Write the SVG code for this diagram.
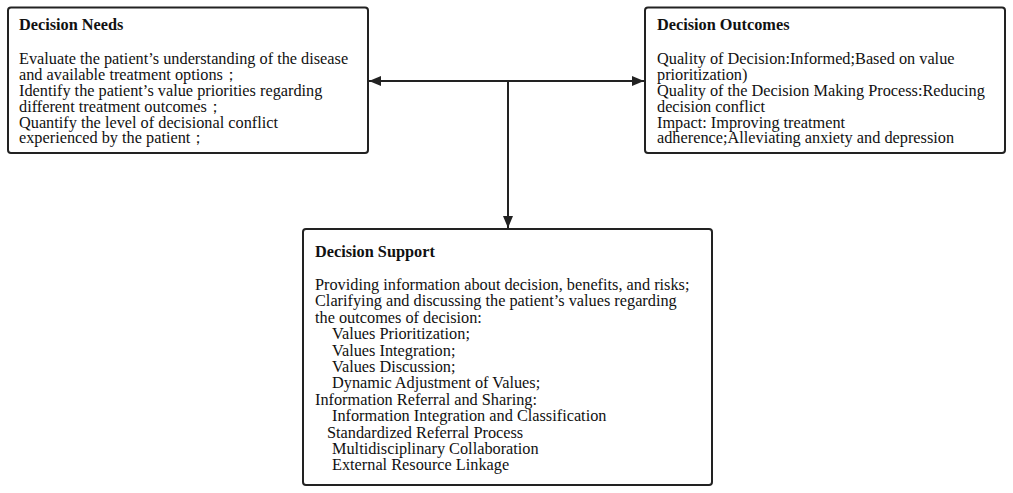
<svg xmlns="http://www.w3.org/2000/svg" width="1013" height="493" viewBox="0 0 1013 493">
<style>
.box{fill:#fff;stroke:#222;stroke-width:2}
.t{font-family:"Liberation Serif","Times New Roman",serif;font-size:16.3px;fill:#111}
.h{font-weight:bold}
.c{stroke:#222;stroke-width:2;fill:none}
</style>
<defs>
<marker id="ah" viewBox="0 0 12 10" refX="12" refY="5" markerWidth="12" markerHeight="10" markerUnits="userSpaceOnUse" orient="auto">
<path d="M0,0 L12,5 L0,10 Z" fill="#222"/>
</marker>
</defs>
<rect width="1013" height="493" fill="#fff"/>
<g id="connectors">
<line class="c" x1="508" y1="81" x2="369" y2="81" marker-end="url(#ah)"/>
<line class="c" x1="508" y1="81" x2="644" y2="81" marker-end="url(#ah)"/>
<line class="c" x1="508" y1="81" x2="508" y2="228" marker-end="url(#ah)"/>
</g>
<g id="decision-needs">
<rect class="box" x="8" y="7.5" width="360" height="145.5" rx="3"/>
<text class="t h" x="19" y="30">Decision Needs</text>
<text class="t" x="19" y="64">Evaluate the patient’s understanding of the disease</text>
<text class="t" x="19" y="80">and available treatment options；</text>
<text class="t" x="19" y="96">Identify the patient’s value priorities regarding</text>
<text class="t" x="19" y="112">different treatment outcomes；</text>
<text class="t" x="19" y="127.5">Quantify the level of decisional conflict</text>
<text class="t" x="19" y="143">experienced by the patient；</text>
</g>
<g id="decision-outcomes">
<rect class="box" x="645" y="7.5" width="360" height="145.5" rx="3"/>
<text class="t h" x="657" y="30">Decision Outcomes</text>
<text class="t" x="657" y="64">Quality of Decision:Informed;Based on value</text>
<text class="t" x="657" y="80">prioritization)</text>
<text class="t" x="657" y="96">Quality of the Decision Making Process:Reducing</text>
<text class="t" x="657" y="112">decision conflict</text>
<text class="t" x="657" y="127.5">Impact: Improving treatment</text>
<text class="t" x="657" y="143">adherence;Alleviating anxiety and depression</text>
</g>
<g id="decision-support">
<rect class="box" x="303" y="229" width="409" height="256" rx="3"/>
<text class="t h" x="315" y="257">Decision Support</text>
<text class="t" x="315" y="290">Providing information about decision, benefits, and risks;</text>
<text class="t" x="315" y="306.4">Clarifying and discussing the patient’s values regarding</text>
<text class="t" x="315" y="322.8">the outcomes of decision:</text>
<text class="t" x="332" y="339.2">Values Prioritization;</text>
<text class="t" x="332" y="355.6">Values Integration;</text>
<text class="t" x="332" y="372">Values Discussion;</text>
<text class="t" x="332" y="388.4">Dynamic Adjustment of Values;</text>
<text class="t" x="315" y="404.8">Information Referral and Sharing:</text>
<text class="t" x="332" y="421.2">Information Integration and Classification</text>
<text class="t" x="327" y="437.6">Standardized Referral Process</text>
<text class="t" x="332" y="454">Multidisciplinary Collaboration</text>
<text class="t" x="332" y="470.4">External Resource Linkage</text>
</g>
</svg>
